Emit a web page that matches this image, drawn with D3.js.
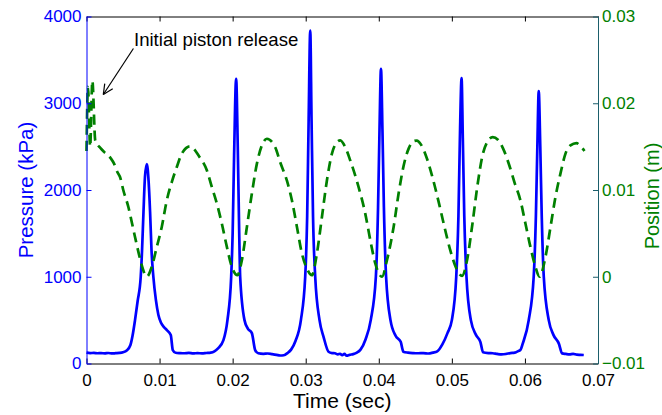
<!DOCTYPE html>
<html>
<head>
<meta charset="utf-8">
<script src="https://cdn.jsdelivr.net/npm/d3@7"></script>
<style>
  body { margin: 0; background: #fff; }
  svg { font-family: "Liberation Sans", Arial, Helvetica, sans-serif; }
</style>
</head>
<body>
<div id="chart-area"></div>
<script>
// tick values
const timeTicks = [0, 0.01, 0.02, 0.03, 0.04, 0.05, 0.06, 0.07];
const pressureTicks = [0, 1000, 2000, 3000, 4000];
const positionTicks = [-0.01, 0, 0.01, 0.02, 0.03];

// pressure trace [time (s), kPa]
const pressure = [
  [0.0000,125],[0.0005,120],[0.0010,122],[0.0015,118],[0.0020,120],[0.0025,117],[0.0030,121],
  [0.0035,116],[0.0040,119],[0.0045,122],[0.0050,130],[0.0055,150],[0.0060,210],[0.0063,320],
  [0.00664,500],[0.0070,720],[0.00742,1000],[0.0076,1300],[0.0078,1750],[0.0080,2150],
  [0.00825,2300],[0.0085,2100],[0.0087,1750],[0.0089,1300],[0.00915,1000],[0.0095,730],
  [0.00984,560],[0.0102,470],[0.0106,420],[0.0110,385],[0.01153,328],[0.01181,155],[0.0122,124],
  [0.0128,120],[0.0134,118],[0.0140,122],
  [0.0146,116],[0.0152,120],[0.0158,117],[0.0164,121],[0.0170,125],[0.0175,140],[0.0180,175],
  [0.01874,270],[0.01929,500],[0.0198,1000],[0.0200,1500],[0.0202,2400],[0.02048,3282],
  [0.0207,2500],[0.0209,1500],[0.02103,1000],[0.02162,500],[0.0221,400],[0.02263,350],
  [0.02308,155],[0.0235,118],[0.0242,112],[0.0248,115],[0.0254,108],[0.0260,100],[0.0265,92],
  [0.0270,95],[0.0275,120],[0.0280,160],[0.0286,260],[0.02934,500],[0.02993,1000],[0.0302,1700],
  [0.0304,2800],[0.03062,3838],[0.0308,2800],[0.0310,1700],[0.0313,1000],[0.03189,500],
  [0.03244,308],[0.03312,136],[0.0336,120],[0.0340,118],[0.0344,105],[0.0347,112],[0.0350,95],
  [0.0353,110],[0.0356,90],[0.0360,100],[0.0365,108],[0.0370,125],[0.0375,160],[0.0382,280],
  [0.0389,500],[0.0396,1000],[0.0399,1800],[0.0401,2700],[0.0403,3397],[0.0405,2700],
  [0.0407,1800],[0.0410,1000],[0.0416,500],[0.0423,320],[0.0430,250],[0.04336,136],[0.0440,125],
  [0.0447,120],[0.0454,118],[0.0461,120],[0.0468,115],[0.0474,125],[0.0480,140],[0.0487,220],
  [0.0494,350],[0.0500,500],[0.0506,1000],[0.0509,1700],[0.0511,2600],[0.05133,3290],
  [0.0515,2600],[0.0517,1700],[0.0520,1000],[0.0526,500],[0.0533,330],[0.0539,250],
  [0.05427,130],[0.0550,120],[0.0556,118],[0.0562,110],[0.0568,105],[0.0574,110],[0.0580,120],
  [0.0586,125],[0.0590,140],[0.05938,155],[0.0597,230],[0.06052,500],[0.0612,1000],[0.0615,1700],
  [0.0617,2500],[0.06189,3139],[0.0621,2500],[0.0623,1700],[0.06258,1000],[0.06326,500],
  [0.0639,330],[0.06463,232],[0.0651,117],[0.0656,110],[0.0661,105],[0.0666,112],[0.0671,102],
  [0.0676,100],[0.06805,98]
];

// piston position [time (s), m]
const position = [
  [0,0.0145],[0.0002,0.0219],[0.0005,0.0150],[0.0008,0.0226],[0.0012,0.0157],[0.00195,0.0148],
  [0.0024,0.0144],[0.00332,0.01365],[0.00377,0.01304],[0.00422,0.01207],[0.00459,0.0115],
  [0.00504,0.00997],[0.00573,0.00804],[0.00619,0.00632],[0.00664,0.00459],[0.0071,0.00287],
  [0.00756,0.00133],[0.00825,0.0],[0.00893,0.00114],[0.00962,0.00344],[0.0103,0.00574],
  [0.01099,0.00881],[0.01167,0.01092],[0.01236,0.01265],[0.01304,0.01419],[0.01418,0.01503],
  [0.0154,0.0139],[0.01647,0.01227],[0.01715,0.01035],[0.01784,0.00844],[0.01852,0.00613],
  [0.01921,0.00344],[0.01989,0.00114],[0.02066,0.00018],[0.02126,0.00191],[0.02195,0.00574],
  [0.02263,0.00959],[0.02332,0.01304],[0.024,0.01514],[0.02468,0.01591],[0.02582,0.01495],
  [0.02651,0.0132],[0.02742,0.0111],[0.02811,0.00881],[0.0288,0.00574],[0.02948,0.00268],
  [0.03016,0.00096],[0.03085,0.00018],[0.03153,0.00268],[0.03222,0.00689],[0.0329,0.0111],
  [0.03359,0.01419],[0.03427,0.01552],[0.03473,0.01572],[0.0354,0.01495],[0.0361,0.0134],
  [0.03723,0.01035],[0.03815,0.00728],[0.03884,0.00421],[0.03952,0.00153],[0.04044,0.0],
  [0.04112,0.00191],[0.04203,0.00574],[0.04271,0.00959],[0.0434,0.0128],[0.0441,0.0148],
  [0.0447,0.0156],[0.0452,0.0157],[0.0458,0.0152],[0.0466,0.0136],[0.0474,0.0113],
  [0.0482,0.0086],[0.049,0.0057],[0.0498,0.0030],[0.0506,0.0010],[0.0514,0.0001],
  [0.0521,0.0020],[0.0528,0.0060],[0.0535,0.0105],[0.0542,0.0140],[0.0549,0.0156],
  [0.0556,0.0161],[0.0563,0.0158],[0.057,0.0148],[0.0578,0.0130],[0.0586,0.0108],
  [0.05938,0.00881],[0.06007,0.00613],[0.06075,0.00344],[0.06144,0.00114],[0.06199,0.0],
  [0.06281,0.00229],[0.0635,0.00574],[0.06418,0.0092],[0.06486,0.01189],[0.06555,0.01419],
  [0.06623,0.01514],[0.06705,0.01541],[0.06737,0.01526],[0.06815,0.01449]
];

const W = 662, H = 415;
const m = { left: 86.5, right: 598, top: 16.5, bottom: 363.5 };
const blue = "#0000ff", green = "#008000", teal = "#1b5e6b";

const svg = d3.select("#chart-area").append("svg")
    .attr("width", W).attr("height", H);

const x = d3.scaleLinear().domain([0, 0.07]).range([m.left, m.right]);
const yP = d3.scaleLinear().domain([0, 4000]).range([m.bottom, m.top]);
const yX = d3.scaleLinear().domain([-0.01, 0.03]).range([m.bottom, m.top]);

// lines
svg.append("path")
    .datum(pressure)
    .attr("fill", "none")
    .attr("stroke", blue)
    .attr("stroke-width", 2.7)
    .attr("stroke-linejoin", "round")
    .attr("d", d3.line().curve(d3.curveMonotoneX).x(d => x(d[0])).y(d => yP(d[1])));

svg.append("path")
    .datum(position)
    .attr("fill", "none")
    .attr("stroke", green)
    .attr("stroke-width", 2.7)
    .attr("stroke-dasharray", "10,6")
    .attr("d", d3.line().curve(d3.curveMonotoneX).x(d => x(d[0])).y(d => yX(d[1])));

// axes
const fmtX = d => d === 0 ? "0" : d3.format(".2f")(d);
const xAxis = svg.append("g")
    .attr("transform", `translate(0,${m.bottom})`)
    .call(d3.axisBottom(x).tickValues(timeTicks).tickFormat(fmtX)
        .tickSizeInner(-5).tickSizeOuter(0).tickPadding(10.5));
xAxis.select(".domain").attr("stroke", "#000");

svg.append("g")
    .attr("transform", `translate(0,${m.top})`)
    .call(d3.axisTop(x).tickValues(timeTicks).tickFormat("")
        .tickSizeInner(-5).tickSizeOuter(0));

const pAxis = svg.append("g")
    .attr("transform", `translate(${m.left},0)`)
    .call(d3.axisLeft(yP).tickValues(pressureTicks).tickFormat(d3.format("d"))
        .tickSizeInner(-5).tickSizeOuter(0).tickPadding(5));
pAxis.selectAll("line, path").attr("stroke", blue);
pAxis.selectAll("text").attr("fill", blue);

const fmtPos = d => d === 0 ? "0" : (d < 0 ? "\u2212" : "") + d3.format(".2f")(Math.abs(d));
const posAxis = svg.append("g")
    .attr("transform", `translate(${m.right},0)`)
    .call(d3.axisRight(yX).tickValues(positionTicks).tickFormat(fmtPos)
        .tickSizeInner(-5).tickSizeOuter(0).tickPadding(4));
posAxis.selectAll("line, path").attr("stroke", teal);
posAxis.selectAll("text").attr("fill", green);

svg.selectAll(".tick text").attr("font-size", "17px")
    .attr("font-family", "'Liberation Sans', Arial, sans-serif");
xAxis.selectAll("text").attr("fill", "#000");

// axis labels
svg.append("text")
    .attr("x", (m.left + m.right) / 2)
    .attr("y", 408)
    .attr("text-anchor", "middle")
    .attr("font-size", "21px")
    .text("Time (sec)");

svg.append("text")
    .attr("transform", `translate(33,${(m.top + m.bottom) / 2}) rotate(-90)`)
    .attr("text-anchor", "middle")
    .attr("font-size", "20.5px")
    .attr("fill", blue)
    .text("Pressure (kPa)");

svg.append("text")
    .attr("transform", `translate(659,196) rotate(-90)`)
    .attr("text-anchor", "middle")
    .attr("font-size", "20px")
    .attr("fill", green)
    .text("Position (m)");

// annotation
svg.append("text")
    .attr("x", x(0.0065))
    .attr("y", yP(3665))
    .attr("font-size", "18.6px")
    .text("Initial piston release");

const ax0 = x(0.00642), ay0 = yP(3631), ax1 = x(0.0023), ay1 = yP(3101);
svg.append("line")
    .attr("x1", ax0).attr("y1", ay0).attr("x2", ax1).attr("y2", ay1)
    .attr("stroke", "#000").attr("stroke-width", 1.2);
const ang = Math.atan2(ay0 - ay1, ax0 - ax1);
[0.45, -0.45].forEach(a => {
  svg.append("line")
      .attr("x1", ax1).attr("y1", ay1)
      .attr("x2", ax1 + 11 * Math.cos(ang + a))
      .attr("y2", ay1 + 11 * Math.sin(ang + a))
      .attr("stroke", "#000").attr("stroke-width", 1.2);
});
</script>
</body>
</html>
